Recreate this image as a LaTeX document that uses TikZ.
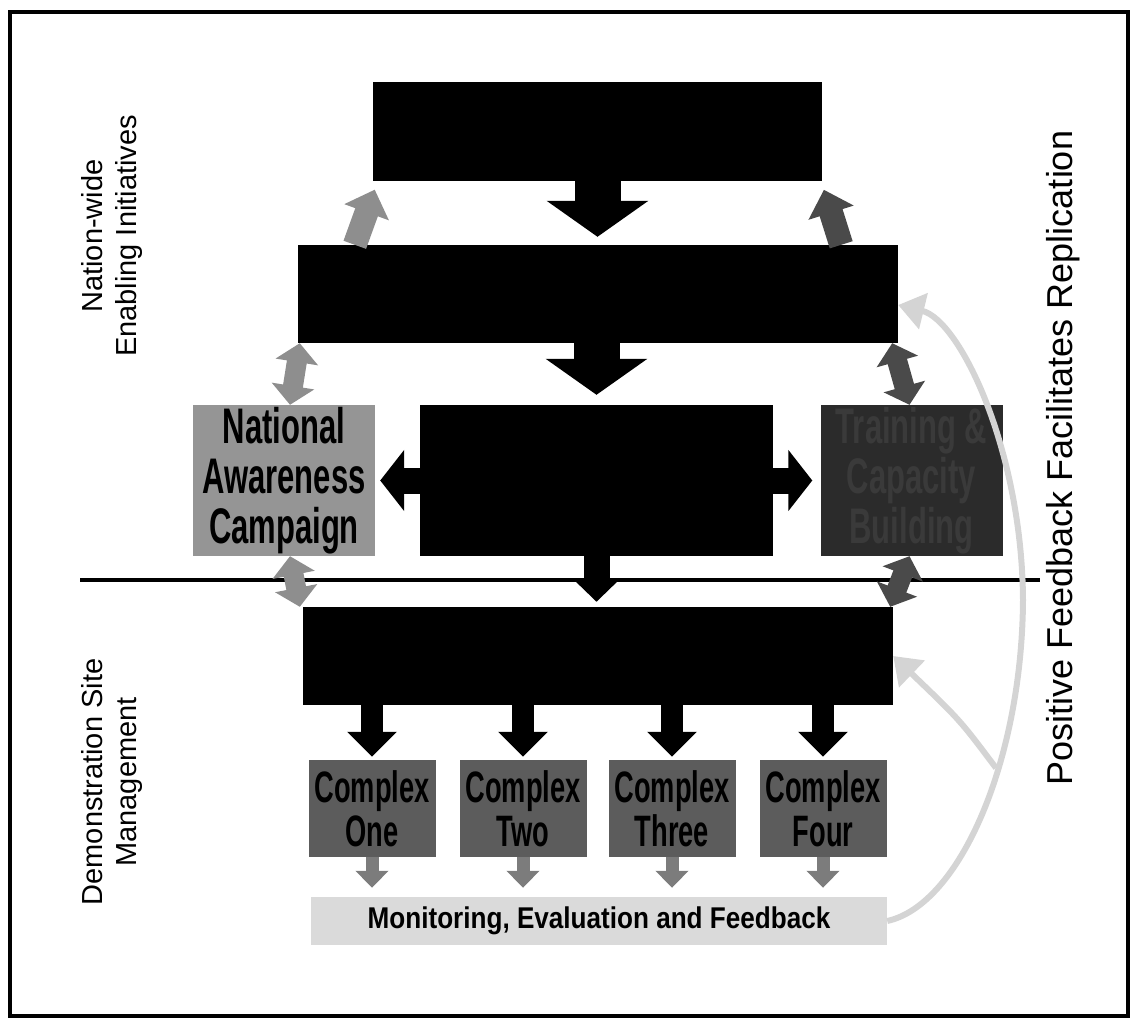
\documentclass[tikz,border=0pt]{standalone}
\usepackage{fontspec}
\setmainfont{Liberation Sans}
\newfontfamily\boxfont[FakeStretch=0.62]{Liberation Sans}
\newfontfamily\barfont[FakeStretch=0.87]{Liberation Sans}
\usetikzlibrary{calc,arrows.meta}
\definecolor{AwareGray}{HTML}{959595}
\definecolor{TrainDark}{HTML}{2B2B2B}
\definecolor{TrainText}{HTML}{3A3A3A}
\definecolor{ComplexGray}{HTML}{5C5C5C}
\definecolor{BarGray}{HTML}{DADADA}
\definecolor{ArrowLight}{HTML}{8E8E8E}
\definecolor{ArrowDark}{HTML}{4A4A4A}
\definecolor{ArrowMid}{HTML}{7C7C7C}
\definecolor{FeedGray}{HTML}{D4D4D4}
\tikzset{
  blackbox/.style={fill=black, inner sep=0pt},
  sidebox/.style={
    inner sep=0pt,
    align=center,
    font=\boxfont\bfseries\fontsize{50}{50}\selectfont,
    minimum width=182pt,
    minimum height=151pt
  },
  complexbox/.style={
    fill=ComplexGray,
    inner sep=0pt,
    align=center,
    font=\boxfont\bfseries\fontsize{44}{44}\selectfont,
    minimum width=127pt,
    minimum height=97pt
  },
  sidelabel/.style={rotate=90, align=center, font=\fontsize{29}{34}\selectfont},
  bigarrow/.style={line width=46pt, -{Triangle[length=36pt,width=100pt]}},
  midarrow/.style={line width=26pt, -{Triangle[length=24pt,width=60pt]}},
  droparrow/.style={line width=26pt, -{Triangle[length=23pt,width=46pt]}},
  smallarrow/.style={line width=22pt, -{Triangle[length=25pt,width=48pt]}},
  tinyarrow/.style={draw=ArrowMid, line width=13pt, -{Triangle[length=17pt,width=32pt]}},
  tiltarrow/.style={line width=24pt, -{Triangle[length=24pt,width=46pt]}},
  linkarrow/.style={line width=20pt, {Triangle[length=19pt,width=42pt]}-{Triangle[length=19pt,width=42pt]}},
  feedline/.style={draw=FeedGray, line width=6pt, -{Triangle[length=26pt,width=36pt]}}
}

\begin{document}
\begin{tikzpicture}[x=1pt, y=-1pt]
  \useasboundingbox (0,0) rectangle (1136,1020);
  \draw[line width=4pt] (10,12) rectangle (1128,1016);

  % level divider
  \draw[line width=4.5pt] (80,580) -- (1040,580);

  % side captions
  \node[sidelabel] (lblnation) at (112,236) {Nation-wide\\Enabling Initiatives};
  \node[sidelabel] (lblsite) at (112,782) {Demonstration Site\\Management};
  \node[sidelabel, font=\fontsize{36}{36}\selectfont] (lblfeedback) at (1063,458)
    {Positive Feedback Facilitates Replication};

  % national level
  \node[blackbox, minimum width=449pt, minimum height=99pt] (topbox) at (597.5,131.5) {};
  \node[blackbox, minimum width=600pt, minimum height=98pt] (upperbox) at (598,294) {};
  \node[sidebox, fill=AwareGray] (awareness) at (284,480.5) {National\\Awareness\\Campaign};
  \node[blackbox, minimum width=353pt, minimum height=151pt] (centerbox) at (596.5,480.5) {};
  \node[sidebox, fill=TrainDark, text=TrainText] (training) at (911.5,480.5) {Training \&\\Capacity\\Building};

  % site level
  \node[blackbox, minimum width=590pt, minimum height=98pt] (sitebox) at (598,656) {};
  \foreach \name/\txt/\x in {cplx1/One/372, cplx2/Two/523, cplx3/Three/672, cplx4/Four/823}
    \node[complexbox] (\name) at (\x,808.5) {Complex\\\txt};
  \node[
    fill=BarGray,
    minimum width=576pt,
    minimum height=48pt,
    inner sep=0pt,
    font=\barfont\bfseries\fontsize{30}{30}\selectfont
  ] (monitor) at (599,921) {Monitoring, Evaluation and Feedback};

  % flow between the boxes
  \draw[bigarrow, shorten >=8pt] (topbox.south) -- (topbox.south |- upperbox.north);
  \draw[tiltarrow, draw=ArrowLight, shorten >=9pt] ([xshift=57pt]upperbox.north west) -- ([xshift=5pt]topbox.south west);
  \draw[tiltarrow, draw=ArrowDark, shorten >=9pt] ([xshift=-57pt]upperbox.north east) -- ([xshift=-1pt]topbox.south east);
  \draw[bigarrow, shorten >=10pt] (centerbox.north |- upperbox.south) -- (centerbox.north);
  \draw[midarrow, shorten >=5pt] (centerbox.west) -- (awareness.east);
  \draw[midarrow, shorten >=8pt] (centerbox.east) -- (training.west);
  \draw[droparrow, shorten >=5pt] (centerbox.south) -- (centerbox.south |- sitebox.north);

  \draw[linkarrow, draw=ArrowLight] ([xshift=6pt]awareness.north) -- ([xshift=2pt]upperbox.south west);
  \draw[linkarrow, draw=ArrowLight] ([xshift=6pt]awareness.south) -- ([xshift=-3pt]sitebox.north west);
  \draw[linkarrow, draw=ArrowDark] ([xshift=-2pt]training.north) -- ([xshift=-6pt]upperbox.south east);
  \draw[linkarrow, draw=ArrowDark] ([xshift=-2pt]training.south) -- ([xshift=-3pt]sitebox.north east);

  \foreach \name in {cplx1,cplx2,cplx3,cplx4} {
    \draw[smallarrow, shorten >=3pt] (\name.north |- sitebox.south) -- (\name.north);
    \draw[tinyarrow, shorten >=9pt] (\name.south) -- (\name.south |- monitor.north);
  }

  % feedback loop
  \coordinate (fbsplit) at (996,768);
  \draw[feedline] (monitor.east) .. controls (960,905) and (1022,760) .. (1023,600)
    .. controls (1022,450) and (960,320) .. ([yshift=-11pt]upperbox.east);
  \draw[feedline] (fbsplit) .. controls (960,720) .. (sitebox.east);
\end{tikzpicture}
\end{document}
